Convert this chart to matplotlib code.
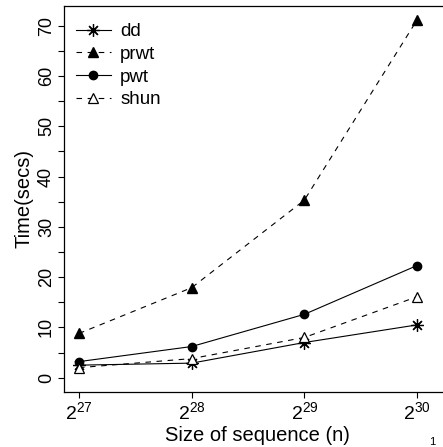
import matplotlib
matplotlib.use("Agg")
import matplotlib.pyplot as plt

plt.rcParams['font.family'] = ['Liberation Sans', 'DejaVu Sans']
plt.rcParams['mathtext.fontset'] = 'custom'
plt.rcParams['mathtext.rm'] = 'Liberation Sans'
plt.rcParams['mathtext.it'] = 'Liberation Sans'

# data (x = log2 of sequence size)
sizes = [27, 28, 29, 30]
size_labels = ["$2^{27}$", "$2^{28}$", "$2^{29}$", "$2^{30}$"]
dd = [2.5, 2.9, 7.0, 10.5]
prwt = [8.8, 17.9, 35.3, 71.1]
pwt = [3.2, 6.2, 12.6, 22.3]
shun = [2.0, 3.8, 8.0, 16.1]

W, H = 443, 447
fig = plt.figure(figsize=(W / 100, H / 100), dpi=100)
# axes box runs off the right edge like the reference crop
ax = fig.add_axes([64 / W, 55 / H, 386 / W, 386 / H])

lw = 0.8
dash = (0, (5, 5))
ax.plot(sizes, dd, color='black', lw=lw, marker=(8, 2, 0), ms=9, mew=0.9, label='dd')
ax.plot(sizes, prwt, color='black', lw=lw, ls=dash, marker='^', ms=7,
        mfc='black', label='prwt')
ax.plot(sizes, pwt, color='black', lw=lw, marker='o', ms=6, mfc='black', label='pwt')
ax.plot(sizes, shun, color='black', lw=lw, ls=dash, marker='^', ms=7,
        mfc='white', mew=0.9, label='shun')

ax.set_xlim(27 - 15 / 112.7, 30 + 33 / 112.7)
ax.set_ylim(-2.84, 73.9)

ax.set_xticks(sizes)
ax.set_xticklabels(size_labels, fontsize=14)
ax.set_yticks(range(0, 71, 5))
ax.set_yticklabels([str(v) if v % 10 == 0 else '' for v in range(0, 71, 5)],
                   fontsize=13, rotation=90, va='center')
ax.tick_params(direction='out', length=4.5, width=0.8, pad=2)
for s in ax.spines.values():
    s.set_linewidth(0.9)

ax.set_xlabel('Size of sequence (n)', fontsize=14.5, labelpad=2)
ax.set_ylabel('Time(secs)', fontsize=14.5, labelpad=3)

ax.legend(loc='upper left', bbox_to_anchor=(0.002, 0.985), frameon=False,
          fontsize=13.5, handlelength=1.85, handletextpad=0.5,
          labelspacing=0.3, borderaxespad=0.2)

fig.text(432 / W, 0, '1', fontsize=8, ha='center', va='bottom')

fig.savefig('out.png', dpi=100)
